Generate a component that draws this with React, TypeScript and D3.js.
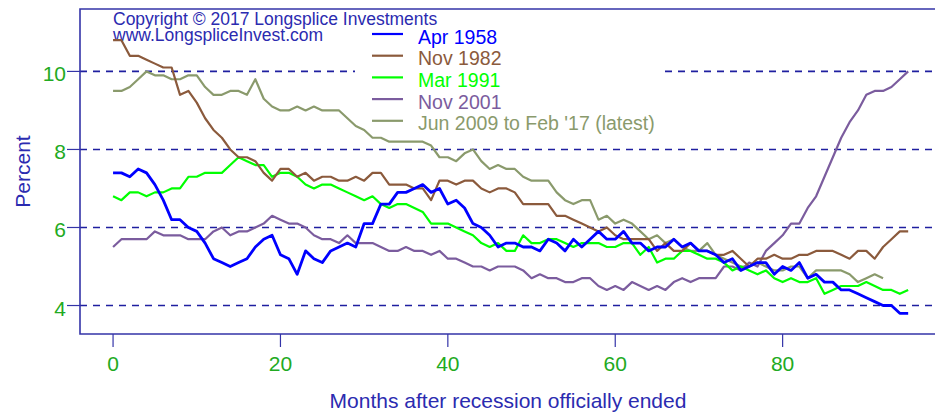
import { useEffect, useRef } from 'react';
import * as d3 from 'd3';

// unemployment rate (%) by month after each recession trough
const apr1958 = [
  7.4, 7.4, 7.3, 7.5, 7.4, 7.1, 6.7, 6.2, 6.2, 6.0,
  5.9, 5.6, 5.2, 5.1, 5.0, 5.1, 5.2, 5.5, 5.7, 5.8,
  5.3, 5.2, 4.8, 5.4, 5.2, 5.1, 5.4, 5.5, 5.6, 5.5,
  6.1, 6.1, 6.6, 6.6, 6.9, 6.9, 7.0, 7.1, 6.9, 7.0,
  6.6, 6.7, 6.5, 6.1, 6.0, 5.8, 5.5, 5.6, 5.6, 5.5,
  5.5, 5.4, 5.7, 5.6, 5.4, 5.7, 5.5, 5.7, 5.9, 5.7,
  5.7, 5.9, 5.6, 5.6, 5.4, 5.5, 5.5, 5.7, 5.5, 5.6,
  5.4, 5.4, 5.3, 5.1, 5.2, 4.9, 5.0, 5.1, 5.1, 4.8,
  5.0, 4.9, 5.1, 4.7, 4.8, 4.6, 4.6, 4.4, 4.4, 4.3,
  4.2, 4.1, 4.0, 4.0, 3.8, 3.8,
];

const nov1982 = [
  10.8, 10.8,
  10.4, 10.4, 10.3, 10.2, 10.1, 10.1, 9.4, 9.5, 9.2, 8.8, 8.5, 8.3,
  8.0, 7.8, 7.8, 7.7, 7.4, 7.2, 7.5, 7.5, 7.3, 7.4, 7.2, 7.3,
  7.3, 7.2, 7.2, 7.3, 7.2, 7.4, 7.4, 7.1, 7.1, 7.1, 7.0, 7.0,
  6.7, 7.2, 7.2, 7.1, 7.2, 7.2, 7.0, 6.9, 7.0, 7.0, 6.9, 6.6,
  6.6, 6.6, 6.6, 6.3, 6.3, 6.2, 6.1, 6.0, 5.9, 6.0, 5.8, 5.7,
  5.7, 5.7, 5.7, 5.4, 5.6, 5.4, 5.4, 5.6, 5.4, 5.4, 5.3, 5.3,
  5.4, 5.2, 5.0, 5.2, 5.2, 5.3, 5.2, 5.2, 5.3, 5.3, 5.4, 5.4,
  5.4, 5.3, 5.2, 5.4, 5.4, 5.2, 5.5, 5.7, 5.9, 5.9,
];

const mar1991 = [
  6.8, 6.7, 6.9, 6.9, 6.8, 6.9, 6.9, 7.0, 7.0, 7.3,
  7.3, 7.4, 7.4, 7.4, 7.6, 7.8, 7.7, 7.6, 7.6, 7.3, 7.4, 7.4,
  7.3, 7.1, 7.0, 7.1, 7.1, 7.0, 6.9, 6.8, 6.7, 6.8, 6.6, 6.5,
  6.6, 6.6, 6.5, 6.4, 6.1, 6.1, 6.1, 6.0, 5.9, 5.8, 5.6, 5.5,
  5.6, 5.4, 5.4, 5.8, 5.6, 5.6, 5.7, 5.7, 5.6, 5.5, 5.6, 5.6,
  5.6, 5.5, 5.5, 5.6, 5.6, 5.3, 5.5, 5.1, 5.2, 5.2, 5.4, 5.4,
  5.3, 5.2, 5.2, 5.1, 4.9, 5.0, 4.9, 4.8, 4.9, 4.7, 4.6, 4.7,
  4.6, 4.6, 4.7, 4.3, 4.4, 4.5, 4.5, 4.5, 4.6, 4.5, 4.4, 4.4,
  4.3, 4.4,
];

const nov2001 = [
  5.5, 5.7,
  5.7, 5.7, 5.7, 5.9, 5.8, 5.8, 5.8, 5.7, 5.7, 5.7, 5.9, 6.0,
  5.8, 5.9, 5.9, 6.0, 6.1, 6.3, 6.2, 6.1, 6.1, 6.0, 5.8, 5.7,
  5.7, 5.6, 5.8, 5.6, 5.6, 5.6, 5.5, 5.4, 5.4, 5.5, 5.4, 5.4,
  5.3, 5.4, 5.2, 5.2, 5.1, 5.0, 5.0, 4.9, 5.0, 5.0, 5.0, 4.9,
  4.7, 4.8, 4.7, 4.7, 4.6, 4.6, 4.7, 4.7, 4.5, 4.4, 4.5, 4.4,
  4.6, 4.5, 4.4, 4.5, 4.4, 4.6, 4.7, 4.6, 4.7, 4.7, 4.7, 5.0,
  5.0, 4.9, 5.1, 5.0, 5.4, 5.6, 5.8, 6.1, 6.1, 6.5, 6.8, 7.3,
  7.8, 8.3, 8.7, 9.0, 9.4, 9.5, 9.5, 9.6, 9.8, 10.0,
];

const jun2009 = [
  9.5, 9.5, 9.6, 9.8, 10.0, 9.9, 9.9,
  9.8, 9.8, 9.9, 9.9, 9.6, 9.4, 9.4, 9.5, 9.5, 9.4, 9.8, 9.3,
  9.1, 9.0, 9.0, 9.1, 9.0, 9.1, 9.0, 9.0, 9.0, 8.8, 8.6, 8.5,
  8.3, 8.3, 8.2, 8.2, 8.2, 8.2, 8.2, 8.1, 7.8, 7.8, 7.7, 7.9,
  8.0, 7.7, 7.5, 7.6, 7.5, 7.5, 7.3, 7.2, 7.2, 7.2, 6.9, 6.7,
  6.6, 6.7, 6.7, 6.2, 6.3, 6.1, 6.2, 6.1, 5.9, 5.7, 5.8, 5.6,
  5.7, 5.5, 5.4, 5.4, 5.6, 5.3, 5.2, 5.1, 5.0, 5.0, 5.1, 5.0,
  4.9, 4.9, 5.0, 5.0, 4.7, 4.9, 4.9, 4.9, 4.9, 4.8, 4.6, 4.7,
  4.8, 4.7,
];

const seriesNames = ['Apr 1958', 'Nov 1982', 'Mar 1991', 'Nov 2001', "Jun 2009 to Feb '17 (latest)"];
const seriesColors = ['#0000ff', '#8b5a3c', '#00ff00', '#7b5c9e', '#8a9a6c'];
const xTicks = [0, 20, 40, 60, 80];
const yTicks = [4, 6, 8, 10];

export default function App() {
  const svgRef = useRef(null);

  useEffect(() => {
    if (!svgRef.current) return;
    const svg = d3.select(svgRef.current);
    svg.selectAll('*').remove();

    const width = 935;
    const height = 413;
    const plot = { left: 80, top: 9, right: 945, bottom: 334 };
    const font = '"Liberation Sans", Arial, sans-serif';
    const frameColor = '#3434a8';
    const textBlue = '#2b2bb0';
    const tickGreen = '#22aa22';

    const x = d3.scaleLinear().domain([-3.95, 99.4]).range([plot.left, plot.right]);
    const y = d3.scaleLinear().domain([3.27, 11.6]).range([plot.bottom, plot.top]);

    svg.attr('width', width).attr('height', height);
    svg.append('rect').attr('width', width).attr('height', height).attr('fill', '#ffffff');

    // dashed grid
    svg.append('g')
      .selectAll('line')
      .data(yTicks)
      .enter()
      .append('line')
      .attr('x1', plot.left)
      .attr('x2', plot.right)
      .attr('y1', d => y(d))
      .attr('y2', d => y(d))
      .attr('stroke', '#1f1fa0')
      .attr('stroke-width', 1.6)
      .attr('stroke-dasharray', '7,6');

    // legend background hides the grid behind it
    svg.append('rect')
      .attr('x', 355)
      .attr('y', 22)
      .attr('width', 309)
      .attr('height', 104)
      .attr('fill', '#ffffff');

    // frame
    svg.append('path')
      .attr('d', `M${plot.right},${plot.top}H${plot.left}V${plot.bottom}H${plot.right}`)
      .attr('fill', 'none')
      .attr('stroke', frameColor)
      .attr('stroke-width', 1.6);

    // axes ticks + labels
    const xAxis = svg.append('g');
    xAxis.selectAll('line')
      .data(xTicks)
      .enter()
      .append('line')
      .attr('x1', d => x(d))
      .attr('x2', d => x(d))
      .attr('y1', plot.bottom)
      .attr('y2', plot.bottom + 13)
      .attr('stroke', frameColor)
      .attr('stroke-width', 1.2);
    xAxis.selectAll('text')
      .data(xTicks)
      .enter()
      .append('text')
      .attr('x', d => x(d))
      .attr('y', 370.5)
      .attr('text-anchor', 'middle')
      .attr('font-family', font)
      .attr('font-size', 21)
      .attr('fill', tickGreen)
      .text(d => d);

    const yAxis = svg.append('g');
    yAxis.selectAll('line')
      .data(yTicks)
      .enter()
      .append('line')
      .attr('x1', plot.left - 13)
      .attr('x2', plot.left)
      .attr('y1', d => y(d))
      .attr('y2', d => y(d))
      .attr('stroke', frameColor)
      .attr('stroke-width', 1.2);
    yAxis.selectAll('text')
      .data(yTicks)
      .enter()
      .append('text')
      .attr('x', 66)
      .attr('y', d => y(d) + 10)
      .attr('text-anchor', 'end')
      .attr('font-family', font)
      .attr('font-size', 21)
      .attr('fill', tickGreen)
      .text(d => d);

    // axis titles
    svg.append('text')
      .attr('x', 508)
      .attr('y', 408)
      .attr('text-anchor', 'middle')
      .attr('font-family', font)
      .attr('font-size', 21)
      .attr('fill', textBlue)
      .text('Months after recession officially ended');
    svg.append('text')
      .attr('transform', 'translate(29.5,171.5) rotate(-90)')
      .attr('text-anchor', 'middle')
      .attr('font-family', font)
      .attr('font-size', 21)
      .attr('fill', textBlue)
      .text('Percent');

    // copyright
    svg.append('text')
      .attr('x', 113)
      .attr('y', 24.5)
      .attr('font-family', font)
      .attr('font-size', 17.5)
      .attr('fill', textBlue)
      .text('Copyright \u00a9 2017 Longsplice Investments');
    svg.append('text')
      .attr('x', 113)
      .attr('y', 40.5)
      .attr('font-family', font)
      .attr('font-size', 17.5)
      .attr('fill', textBlue)
      .text('www.LongspliceInvest.com');

    // series lines, latest first so the old ones sit on top
    const series = [apr1958, nov1982, mar1991, nov2001, jun2009];
    const line = d3.line<number>()
      .x((d, i) => x(i))
      .y(d => y(d));
    const drawOrder = [4, 3, 2, 1, 0];
    drawOrder.forEach(k => {
      svg.append('path')
        .datum(series[k])
        .attr('d', line)
        .attr('fill', 'none')
        .attr('stroke', seriesColors[k])
        .attr('stroke-width', k === 0 ? 2.8 : 2.2)
        .attr('stroke-linejoin', 'round');
    });

    // legend
    const legend = svg.append('g');
    const rowY = (i: number) => 34 + i * 21.7;
    legend.selectAll('line')
      .data(seriesNames)
      .enter()
      .append('line')
      .attr('x1', 372)
      .attr('x2', 403)
      .attr('y1', (d, i) => rowY(i))
      .attr('y2', (d, i) => rowY(i))
      .attr('stroke', (d, i) => seriesColors[i])
      .attr('stroke-width', 2.2);
    legend.selectAll('text')
      .data(seriesNames)
      .enter()
      .append('text')
      .attr('x', 418)
      .attr('y', (d, i) => rowY(i) + 9.5)
      .attr('font-family', font)
      .attr('font-size', 19.5)
      .attr('fill', (d, i) => seriesColors[i])
      .text(d => d);
  }, []);

  return (
    <div style={{ position: 'absolute', left: 0, top: 0 }}>
      <svg ref={svgRef} style={{ display: 'block' }}></svg>
    </div>
  );
}
